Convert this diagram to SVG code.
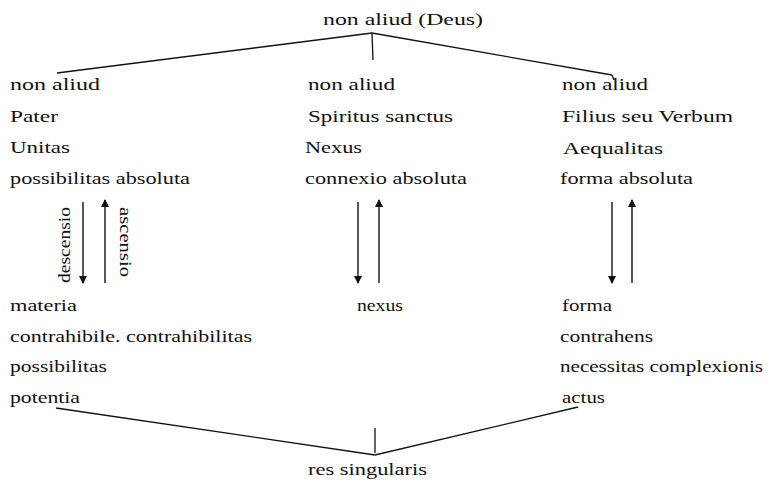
<svg xmlns="http://www.w3.org/2000/svg" width="771" height="482" viewBox="0 0 771 482">
<style>
text{font-family:"Liberation Serif","Times New Roman",serif;font-size:17.5px;fill:#111}
.ln{stroke:#111;stroke-width:1.3;fill:none}
.ar{stroke:#111;stroke-width:1.4;fill:none}
</style>
<defs>
<marker id="ah" viewBox="0 0 8 10" refX="7" refY="5" markerWidth="8" markerHeight="10" markerUnits="userSpaceOnUse" orient="auto">
<path d="M0,1 L8,5 L0,9 Z" fill="#111"/>
</marker>
</defs>
<rect width="771" height="482" fill="#fff"/>
<g id="connectors">
<line class="ln" x1="372" y1="33" x2="57" y2="73" stroke-width="1.8"/>
<line class="ln" x1="372" y1="33" x2="612" y2="75"/>
<line class="ln" x1="612" y1="75" x2="614" y2="80"/>
<line class="ln" x1="372" y1="33" x2="373" y2="60" stroke-width="1"/>
<line class="ln" x1="56" y1="408" x2="375" y2="455"/>
<line class="ln" x1="375" y1="455" x2="578" y2="407"/>
<line class="ln" x1="375" y1="428" x2="375" y2="453" stroke-width="1"/>
<line class="ar" x1="83" y1="202" x2="83" y2="283" marker-end="url(#ah)"/>
<line class="ar" x1="105" y1="283" x2="105" y2="200" marker-end="url(#ah)"/>
<line class="ar" x1="358" y1="202" x2="358" y2="283" marker-end="url(#ah)"/>
<line class="ar" x1="379" y1="283" x2="379" y2="200" marker-end="url(#ah)"/>
<line class="ar" x1="612" y1="202" x2="612" y2="283" marker-end="url(#ah)"/>
<line class="ar" x1="632" y1="283" x2="632" y2="200" marker-end="url(#ah)"/>
<text transform="translate(70,283) rotate(-90)" textLength="76" lengthAdjust="spacingAndGlyphs">descensio</text>
<text transform="translate(120,207) rotate(90)" textLength="70" lengthAdjust="spacingAndGlyphs">ascensio</text>
</g>
<g id="deus"><text x="323" y="25" textLength="160" lengthAdjust="spacingAndGlyphs">non aliud (Deus)</text></g>
<g id="pater">
<text x="10" y="90" textLength="90" lengthAdjust="spacingAndGlyphs">non aliud</text>
<text x="10" y="122" textLength="48" lengthAdjust="spacingAndGlyphs">Pater</text>
<text x="10" y="153" textLength="60" lengthAdjust="spacingAndGlyphs">Unitas</text>
<text x="10" y="184" textLength="180" lengthAdjust="spacingAndGlyphs">possibilitas absoluta</text>
</g>
<g id="spiritus">
<text x="308" y="90" textLength="87" lengthAdjust="spacingAndGlyphs">non aliud</text>
<text x="308" y="122" textLength="145" lengthAdjust="spacingAndGlyphs">Spiritus sanctus</text>
<text x="305" y="153" textLength="57" lengthAdjust="spacingAndGlyphs">Nexus</text>
<text x="305" y="184" textLength="162" lengthAdjust="spacingAndGlyphs">connexio absoluta</text>
</g>
<g id="filius">
<text x="562" y="90" textLength="86" lengthAdjust="spacingAndGlyphs">non aliud</text>
<text x="562" y="122" textLength="171" lengthAdjust="spacingAndGlyphs">Filius seu Verbum</text>
<text x="563" y="154" textLength="100" lengthAdjust="spacingAndGlyphs">Aequalitas</text>
<text x="560" y="184" textLength="133" lengthAdjust="spacingAndGlyphs">forma absoluta</text>
</g>
<g id="materia">
<text x="10" y="311" textLength="67" lengthAdjust="spacingAndGlyphs">materia</text>
<text x="10" y="342" textLength="242" lengthAdjust="spacingAndGlyphs">contrahibile. contrahibilitas</text>
<text x="10" y="372" textLength="97" lengthAdjust="spacingAndGlyphs">possibilitas</text>
<text x="10" y="403" textLength="70" lengthAdjust="spacingAndGlyphs">potentia</text>
</g>
<g id="nexus"><text x="357" y="311" textLength="46" lengthAdjust="spacingAndGlyphs">nexus</text></g>
<g id="forma">
<text x="562" y="311" textLength="50" lengthAdjust="spacingAndGlyphs">forma</text>
<text x="560" y="342" textLength="93" lengthAdjust="spacingAndGlyphs">contrahens</text>
<text x="560" y="372" textLength="203" lengthAdjust="spacingAndGlyphs">necessitas complexionis</text>
<text x="562" y="403" textLength="43" lengthAdjust="spacingAndGlyphs">actus</text>
</g>
<g id="res"><text x="308" y="475" textLength="119" lengthAdjust="spacingAndGlyphs">res singularis</text></g>
</svg>
